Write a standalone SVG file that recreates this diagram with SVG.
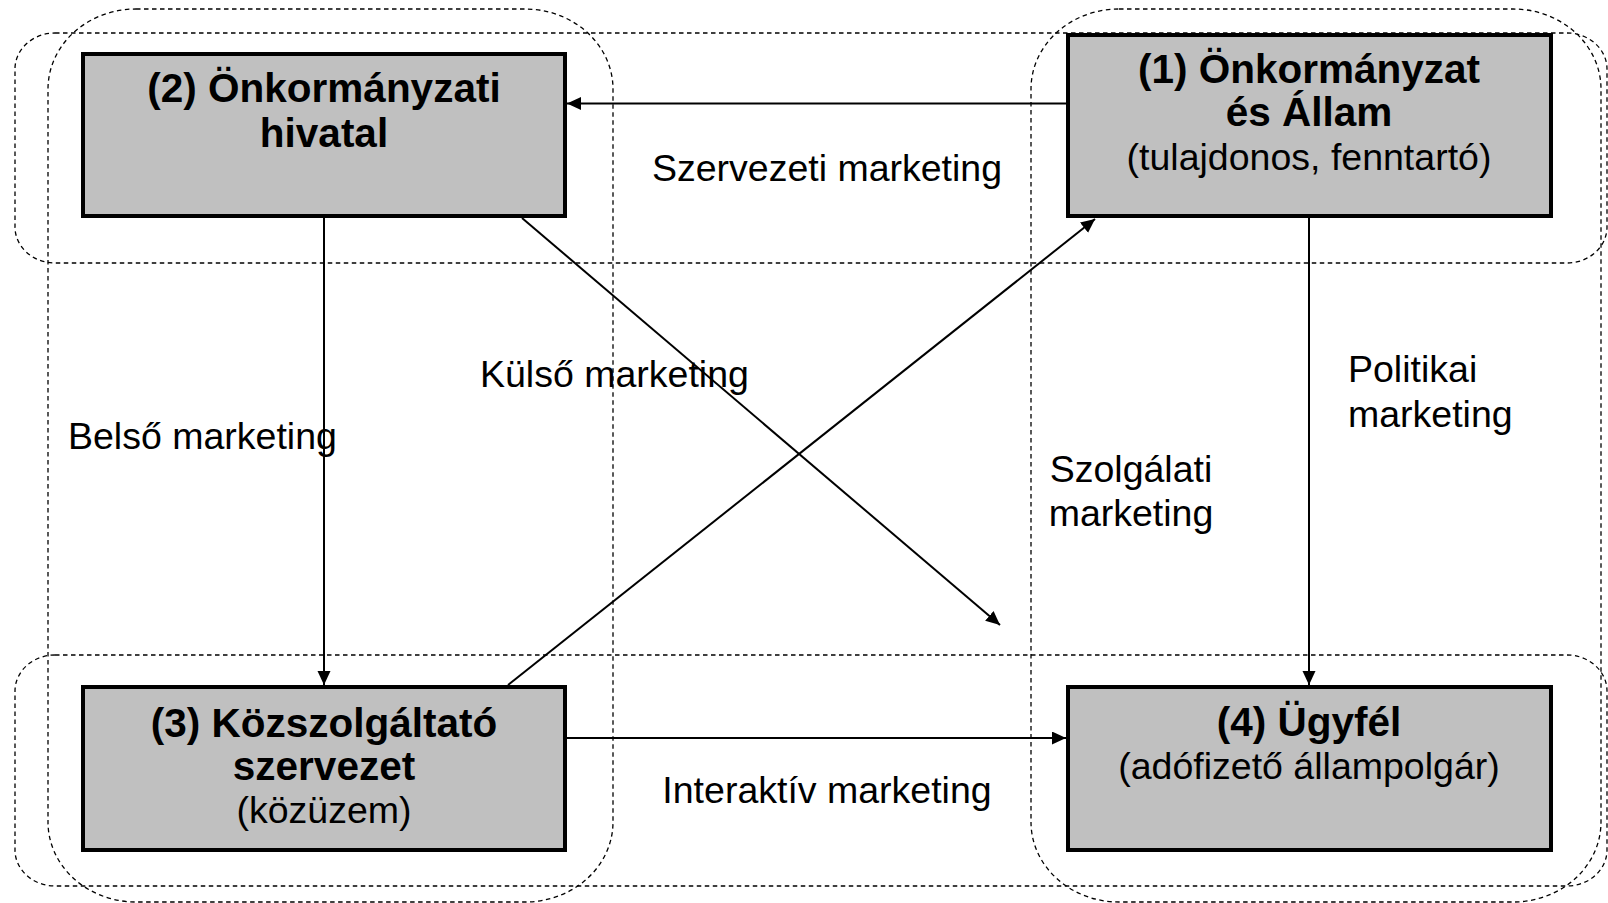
<svg xmlns="http://www.w3.org/2000/svg" width="1608" height="903" viewBox="0 0 1608 903">
<style>
.zone{fill:none;stroke:#000;stroke-width:1.3;stroke-dasharray:4.5 3.5}
.box{fill:#c0c0c0;stroke:#000;stroke-width:4}
.con{stroke:#000;stroke-width:2;fill:none}
text{font-family:"Liberation Sans",Arial,sans-serif;fill:#000}
.b{font-weight:bold;font-size:40.5px}
.r{font-size:37.5px}
.c{text-anchor:middle}
</style>
<defs>
<marker id="ah" markerUnits="userSpaceOnUse" markerWidth="15" markerHeight="14" refX="14" refY="6.5" orient="auto">
<path d="M0,0 L14,6.5 L0,13 z" fill="#000"/>
</marker>
</defs>
<rect width="1608" height="903" fill="#fff"/>
<g id="zones">
<rect class="zone" x="15" y="33" width="1592" height="230" rx="40" ry="36"/>
<rect class="zone" x="15" y="655" width="1592" height="231" rx="40" ry="36"/>
<rect class="zone" x="48" y="9" width="565" height="893" rx="88" ry="80"/>
<rect class="zone" x="1031" y="9" width="570" height="893" rx="88" ry="80"/>
</g>
<g id="node2">
<rect class="box" x="83" y="54" width="482" height="162"/>
<text class="b c" x="324" y="102">(2) Önkormányzati</text>
<text class="b c" x="324" y="147">hivatal</text>
</g>
<g id="node1">
<rect class="box" x="1068" y="35" width="483" height="181"/>
<text class="b c" x="1309" y="83">(1) Önkormányzat</text>
<text class="b c" x="1309" y="126">és Állam</text>
<text class="r c" x="1309" y="170">(tulajdonos, fenntartó)</text>
</g>
<g id="node3">
<rect class="box" x="83" y="687" width="482" height="163"/>
<text class="b c" x="324" y="737">(3) Közszolgáltató</text>
<text class="b c" x="324" y="780">szervezet</text>
<text class="r c" x="324" y="823">(közüzem)</text>
</g>
<g id="node4">
<rect class="box" x="1068" y="687" width="483" height="163"/>
<text class="b c" x="1309" y="736">(4) Ügyfél</text>
<text class="r c" x="1309" y="779">(adófizető állampolgár)</text>
</g>
<g id="connectors">
<line class="con" x1="1066" y1="103.5" x2="567" y2="103.5" marker-end="url(#ah)"/>
<line class="con" x1="324" y1="218" x2="324" y2="685" marker-end="url(#ah)"/>
<line class="con" x1="1309" y1="218" x2="1309" y2="685" marker-end="url(#ah)"/>
<line class="con" x1="567" y1="738" x2="1066" y2="738" marker-end="url(#ah)"/>
<line class="con" x1="522" y1="218" x2="1000" y2="625" marker-end="url(#ah)"/>
<line class="con" x1="508" y1="685" x2="1095" y2="219" marker-end="url(#ah)"/>
</g>
<g id="labels">
<text class="r c" x="827" y="181">Szervezeti marketing</text>
<text class="r" x="480" y="387">Külső marketing</text>
<text class="r" x="68" y="449">Belső marketing</text>
<text class="r" x="1348" y="382">Politikai</text>
<text class="r" x="1348" y="427">marketing</text>
<text class="r c" x="1131" y="482">Szolgálati</text>
<text class="r c" x="1131" y="526">marketing</text>
<text class="r c" x="827" y="803">Interaktív marketing</text>
</g>
</svg>
